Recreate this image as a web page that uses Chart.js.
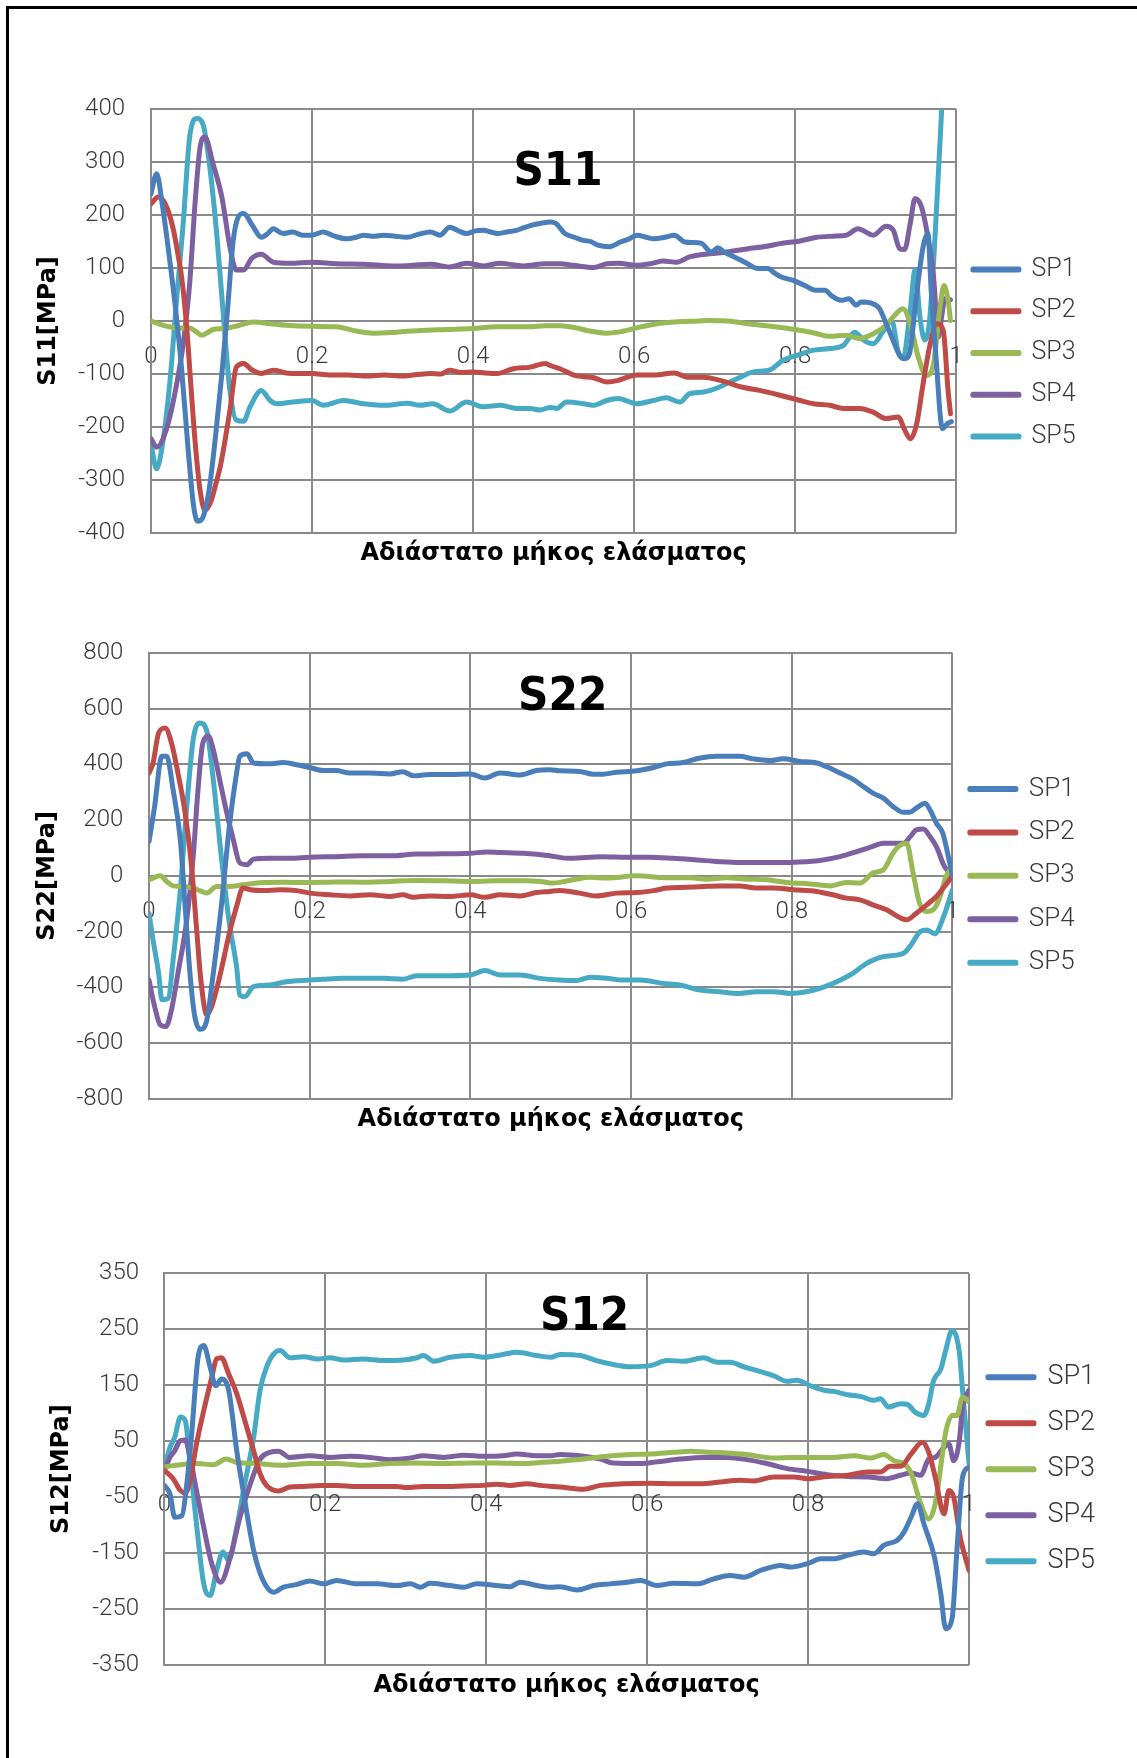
<!DOCTYPE html>
<html lang="el">
<head>
<meta charset="utf-8">
<title>S11 / S22 / S12</title>
<script src="https://cdn.jsdelivr.net/npm/chart.js@4.4.1/dist/chart.umd.min.js"></script>
<style>
  html, body { margin: 0; padding: 0; background: #fff; }
  body { width: 1137px; height: 1758px; position: relative; overflow: hidden; }
  .frame { position: absolute; left: 6px; top: 6px; width: 1300px; height: 1900px;
           border-left: 3px solid #000; border-top: 3px solid #000; }
  canvas { position: absolute; left: 0; }
</style>
</head>
<body>
<div class="frame"></div>
<canvas id="c11" width="1137" height="530" style="top:60px"></canvas>
<canvas id="c22" width="1137" height="560" style="top:600px"></canvas>
<canvas id="c12" width="1137" height="520" style="top:1210px"></canvas>
<script>
// Series names and colours shared by the three plots
const SERIES = ['SP1', 'SP2', 'SP3', 'SP4', 'SP5'];
const COLORS = ['#4A7EBB', '#BE4B48', '#98B954', '#7D60A0', '#46AAC5'];
const X_TITLE = 'Αδιάστατο μήκος ελάσματος';
const X_TICK_STEP = 0.2;

// ---- S11 [MPa] : [dimensionless length, stress] ----
const S11_SP1 = [[0,240],[0.007,278],[0.014,220],[0.022,130],[0.03,30],[0.038,-90],[0.046,-240],[0.053,-350],[0.058,-378],[0.064,-372],[0.072,-320],[0.08,-220],[0.088,-100],[0.095,20],[0.102,150],[0.108,195],[0.115,203],[0.126,180],[0.137,158],[0.145,165],[0.152,174],[0.164,165],[0.176,168],[0.188,162],[0.2,162],[0.214,168],[0.228,160],[0.243,155],[0.255,158],[0.264,162],[0.277,160],[0.289,162],[0.303,160],[0.318,158],[0.333,164],[0.347,168],[0.359,162],[0.371,177],[0.382,170],[0.392,165],[0.403,170],[0.413,171],[0.422,168],[0.43,165],[0.442,168],[0.454,171],[0.463,176],[0.471,180],[0.483,184],[0.496,187],[0.503,184],[0.514,165],[0.526,158],[0.537,152],[0.546,150],[0.555,143],[0.569,140],[0.583,149],[0.594,155],[0.604,162],[0.615,158],[0.625,155],[0.638,158],[0.65,162],[0.663,149],[0.673,148],[0.683,147],[0.696,130],[0.704,138],[0.712,130],[0.72,124],[0.731,116],[0.741,108],[0.754,99],[0.766,99],[0.775,90],[0.783,83],[0.797,77],[0.812,67],[0.825,58],[0.837,58],[0.845,48],[0.857,39],[0.867,42],[0.876,30],[0.882,36],[0.894,34],[0.905,23],[0.913,-5],[0.92,-30],[0.93,-65],[0.936,-71],[0.942,-62],[0.95,39],[0.959,140],[0.965,165],[0.969,58],[0.975,-68],[0.983,-203],[0.989,-194],[0.994,-190]];
const S11_SP2 = [[0,221],[0.009,234],[0.015,228],[0.022,205],[0.028,171],[0.033,130],[0.038,83],[0.044,-5],[0.049,-110],[0.053,-194],[0.057,-265],[0.061,-320],[0.067,-357],[0.075,-338],[0.08,-310],[0.086,-275],[0.092,-225],[0.098,-169],[0.106,-87],[0.115,-80],[0.125,-92],[0.137,-99],[0.152,-93],[0.168,-98],[0.184,-99],[0.2,-99],[0.222,-102],[0.245,-102],[0.268,-104],[0.29,-102],[0.312,-104],[0.33,-101],[0.347,-99],[0.36,-100],[0.371,-93],[0.385,-97],[0.4,-96],[0.415,-98],[0.43,-99],[0.45,-90],[0.471,-87],[0.49,-80],[0.496,-84],[0.508,-90],[0.525,-102],[0.537,-105],[0.55,-107],[0.566,-115],[0.58,-112],[0.592,-106],[0.603,-102],[0.625,-102],[0.65,-98],[0.666,-106],[0.686,-106],[0.707,-112],[0.72,-118],[0.732,-124],[0.756,-131],[0.781,-140],[0.806,-150],[0.823,-156],[0.843,-159],[0.86,-165],[0.88,-165],[0.897,-172],[0.913,-184],[0.928,-181],[0.936,-205],[0.943,-222],[0.951,-194],[0.959,-118],[0.967,-49],[0.976,-5],[0.984,-18],[0.99,-131],[0.993,-175]];
const S11_SP3 = [[0,0],[0.015,-8],[0.032,-13],[0.048,-13],[0.056,-20],[0.063,-27],[0.07,-22],[0.077,-16],[0.092,-14],[0.11,-8],[0.127,-2],[0.148,-5],[0.168,-8],[0.2,-10],[0.23,-11],[0.255,-19],[0.276,-23],[0.305,-21],[0.334,-18],[0.367,-16],[0.4,-14],[0.43,-11],[0.47,-11],[0.49,-9],[0.508,-9],[0.528,-13],[0.545,-19],[0.566,-23],[0.58,-21],[0.603,-13],[0.625,-6],[0.65,-2],[0.68,0],[0.695,1],[0.716,0],[0.741,-5],[0.77,-10],[0.8,-16],[0.825,-23],[0.843,-29],[0.863,-27],[0.88,-33],[0.897,-24],[0.913,-8],[0.922,8],[0.934,23],[0.943,-5],[0.953,-68],[0.963,-103],[0.972,-80],[0.98,26],[0.985,67],[0.99,39],[0.993,1]];
const S11_SP4 = [[0,-222],[0.007,-238],[0.02,-200],[0.032,-118],[0.04,-43],[0.048,70],[0.055,228],[0.061,328],[0.067,347],[0.077,297],[0.088,234],[0.098,140],[0.106,96],[0.115,96],[0.125,118],[0.137,126],[0.152,111],[0.173,109],[0.2,111],[0.23,108],[0.264,107],[0.285,105],[0.305,104],[0.325,105],[0.347,107],[0.371,102],[0.392,109],[0.413,104],[0.434,109],[0.45,106],[0.463,104],[0.49,108],[0.508,108],[0.525,105],[0.55,101],[0.566,108],[0.58,109],[0.603,105],[0.62,108],[0.636,113],[0.653,111],[0.669,121],[0.694,127],[0.715,130],[0.74,136],[0.765,141],[0.781,146],[0.806,151],[0.827,158],[0.847,160],[0.864,162],[0.878,174],[0.897,162],[0.913,179],[0.922,171],[0.93,136],[0.936,135],[0.943,184],[0.949,231],[0.957,215],[0.965,158],[0.972,83],[0.978,-30],[0.982,8],[0.986,42],[0.993,40]];
const S11_SP5 = [[0,-231],[0.007,-279],[0.015,-225],[0.024,-106],[0.032,45],[0.04,184],[0.048,347],[0.057,382],[0.065,369],[0.073,291],[0.082,158],[0.09,8],[0.098,-131],[0.106,-187],[0.115,-189],[0.123,-162],[0.137,-131],[0.148,-150],[0.156,-156],[0.176,-153],[0.2,-150],[0.214,-159],[0.239,-150],[0.264,-156],[0.292,-159],[0.318,-155],[0.334,-159],[0.35,-156],[0.371,-170],[0.392,-153],[0.413,-162],[0.434,-159],[0.454,-165],[0.471,-165],[0.483,-168],[0.496,-163],[0.504,-165],[0.516,-153],[0.537,-156],[0.549,-159],[0.566,-150],[0.58,-146],[0.603,-156],[0.624,-150],[0.64,-145],[0.657,-153],[0.669,-137],[0.686,-134],[0.707,-124],[0.719,-115],[0.732,-106],[0.748,-96],[0.769,-92],[0.785,-74],[0.802,-65],[0.823,-55],[0.843,-52],[0.86,-46],[0.874,-21],[0.885,-36],[0.897,-43],[0.91,-18],[0.92,1],[0.928,-58],[0.934,-71],[0.943,20],[0.949,96],[0.955,8],[0.961,-36],[0.967,1],[0.974,165],[0.979,309],[0.982,397],[0.986,520]];

// ---- S22 [MPa] ----
const S22_SP1 = [[0,123],[0.007,249],[0.016,429],[0.022,429],[0.03,309],[0.039,129],[0.045,-110],[0.051,-350],[0.057,-505],[0.064,-551],[0.072,-517],[0.08,-350],[0.09,-110],[0.1,177],[0.109,369],[0.113,429],[0.122,438],[0.13,405],[0.15,402],[0.167,407],[0.184,399],[0.2,389],[0.217,378],[0.233,378],[0.25,369],[0.275,369],[0.3,366],[0.316,374],[0.329,359],[0.349,364],[0.375,364],[0.4,366],[0.418,351],[0.437,369],[0.462,362],[0.482,378],[0.499,381],[0.511,377],[0.536,375],[0.553,365],[0.565,365],[0.582,372],[0.607,377],[0.628,389],[0.644,402],[0.665,407],[0.686,423],[0.706,429],[0.735,429],[0.752,420],[0.773,414],[0.789,420],[0.81,411],[0.831,405],[0.847,387],[0.86,369],[0.876,347],[0.889,321],[0.901,297],[0.914,279],[0.926,249],[0.939,228],[0.947,228],[0.955,243],[0.966,261],[0.972,237],[0.98,189],[0.988,153],[0.994,81],[1.0,0]];
const S22_SP2 = [[0,369],[0.005,405],[0.012,513],[0.02,531],[0.028,477],[0.036,369],[0.045,225],[0.053,34],[0.059,-182],[0.065,-386],[0.072,-499],[0.078,-469],[0.088,-362],[0.1,-206],[0.109,-110],[0.117,-44],[0.126,-50],[0.142,-53],[0.163,-50],[0.184,-53],[0.2,-62],[0.225,-68],[0.25,-72],[0.275,-68],[0.3,-74],[0.316,-68],[0.329,-77],[0.349,-72],[0.375,-74],[0.4,-68],[0.418,-77],[0.437,-68],[0.462,-72],[0.482,-60],[0.499,-56],[0.511,-53],[0.536,-62],[0.557,-72],[0.582,-62],[0.607,-60],[0.628,-53],[0.644,-44],[0.669,-41],[0.69,-38],[0.71,-36],[0.735,-36],[0.756,-44],[0.777,-44],[0.802,-50],[0.831,-56],[0.851,-68],[0.868,-80],[0.885,-86],[0.901,-104],[0.918,-122],[0.932,-146],[0.943,-158],[0.955,-134],[0.968,-104],[0.98,-74],[0.99,-38],[1.0,0]];
const S22_SP3 = [[0,-14],[0.014,0],[0.022,-20],[0.03,-36],[0.043,-38],[0.055,-44],[0.065,-55],[0.072,-62],[0.084,-38],[0.1,-38],[0.117,-32],[0.142,-24],[0.167,-23],[0.2,-24],[0.233,-22],[0.267,-23],[0.3,-20],[0.333,-17],[0.366,-18],[0.4,-20],[0.433,-18],[0.466,-18],[0.487,-20],[0.503,-26],[0.528,-14],[0.549,-5],[0.57,-8],[0.607,0],[0.644,-7],[0.673,-7],[0.694,-12],[0.719,-7],[0.744,-12],[0.769,-14],[0.794,-24],[0.823,-29],[0.848,-36],[0.868,-24],[0.885,-26],[0.901,10],[0.914,22],[0.926,81],[0.934,108],[0.943,117],[0.951,10],[0.959,-98],[0.968,-128],[0.976,-122],[0.984,-80],[0.992,-2],[1.0,34]];
const S22_SP4 = [[0,-374],[0.007,-469],[0.014,-535],[0.021,-541],[0.028,-481],[0.036,-350],[0.047,-158],[0.055,69],[0.061,309],[0.067,477],[0.074,501],[0.08,453],[0.088,345],[0.096,237],[0.105,129],[0.113,46],[0.122,40],[0.13,60],[0.15,63],[0.175,63],[0.2,67],[0.233,69],[0.267,72],[0.3,72],[0.333,78],[0.366,79],[0.4,81],[0.42,86],[0.437,84],[0.466,81],[0.499,72],[0.52,63],[0.549,67],[0.565,69],[0.594,67],[0.623,67],[0.652,63],[0.682,57],[0.71,51],[0.735,48],[0.769,48],[0.794,48],[0.818,51],[0.835,55],[0.86,69],[0.881,87],[0.898,103],[0.914,117],[0.926,117],[0.939,117],[0.947,139],[0.955,165],[0.964,168],[0.972,141],[0.98,105],[0.99,34],[1.0,0]];
const S22_SP5 = [[0,-134],[0.005,-230],[0.012,-350],[0.016,-445],[0.024,-440],[0.03,-302],[0.039,-50],[0.047,249],[0.055,489],[0.063,549],[0.072,519],[0.08,345],[0.09,69],[0.1,-170],[0.109,-326],[0.113,-428],[0.119,-434],[0.13,-398],[0.15,-392],[0.171,-380],[0.2,-374],[0.217,-371],[0.241,-368],[0.267,-368],[0.291,-368],[0.316,-371],[0.333,-359],[0.366,-359],[0.4,-356],[0.418,-340],[0.437,-356],[0.462,-356],[0.487,-368],[0.511,-374],[0.532,-376],[0.549,-364],[0.57,-368],[0.59,-374],[0.611,-374],[0.64,-386],[0.661,-392],[0.686,-410],[0.71,-416],[0.735,-422],[0.756,-416],[0.777,-416],[0.798,-422],[0.818,-416],[0.835,-404],[0.856,-380],[0.876,-350],[0.893,-314],[0.914,-290],[0.939,-278],[0.947,-254],[0.96,-200],[0.968,-194],[0.978,-208],[0.989,-146],[1.0,-50]];

// ---- S12 [MPa] ----
const S12_SP1 = [[0,-29],[0.007,-44],[0.013,-86],[0.022,-83],[0.028,-26],[0.034,63],[0.042,200],[0.049,221],[0.057,182],[0.064,149],[0.071,161],[0.08,141],[0.09,33],[0.1,-56],[0.111,-145],[0.121,-193],[0.136,-220],[0.148,-211],[0.165,-206],[0.181,-200],[0.198,-205],[0.214,-199],[0.239,-205],[0.264,-205],[0.289,-208],[0.306,-205],[0.318,-211],[0.33,-204],[0.355,-208],[0.372,-211],[0.388,-205],[0.413,-208],[0.43,-210],[0.442,-202],[0.463,-208],[0.48,-211],[0.492,-210],[0.513,-216],[0.534,-208],[0.554,-205],[0.575,-202],[0.592,-199],[0.612,-208],[0.633,-204],[0.662,-205],[0.683,-196],[0.703,-190],[0.72,-193],[0.741,-181],[0.766,-172],[0.778,-175],[0.799,-169],[0.816,-160],[0.832,-160],[0.849,-154],[0.869,-148],[0.882,-151],[0.894,-136],[0.911,-127],[0.919,-113],[0.928,-86],[0.936,-62],[0.944,-98],[0.957,-157],[0.965,-223],[0.971,-285],[0.979,-267],[0.985,-145],[0.992,-14],[1.0,4]];
const S12_SP2 = [[0,-2],[0.011,-17],[0.02,-38],[0.026,-43],[0.032,-20],[0.04,45],[0.051,117],[0.059,164],[0.065,197],[0.071,199],[0.08,170],[0.09,135],[0.1,87],[0.111,33],[0.119,-8],[0.127,-29],[0.142,-39],[0.156,-32],[0.173,-31],[0.194,-29],[0.214,-29],[0.239,-31],[0.264,-31],[0.289,-31],[0.301,-33],[0.322,-31],[0.347,-31],[0.372,-30],[0.397,-29],[0.413,-27],[0.43,-29],[0.451,-26],[0.467,-29],[0.492,-32],[0.521,-36],[0.542,-29],[0.571,-26],[0.604,-25],[0.633,-26],[0.666,-26],[0.691,-23],[0.716,-20],[0.733,-21],[0.757,-14],[0.782,-14],[0.799,-17],[0.824,-13],[0.849,-11],[0.874,-5],[0.89,-5],[0.902,5],[0.915,5],[0.928,27],[0.942,48],[0.95,30],[0.958,-14],[0.969,-80],[0.975,-38],[0.981,-50],[0.989,-121],[1.0,-181]];
const S12_SP3 = [[0,4],[0.02,8],[0.04,10],[0.061,8],[0.077,18],[0.09,12],[0.115,10],[0.144,7],[0.181,10],[0.214,10],[0.247,7],[0.281,10],[0.314,11],[0.347,10],[0.38,11],[0.413,11],[0.446,10],[0.467,12],[0.492,14],[0.521,18],[0.55,23],[0.579,26],[0.604,27],[0.633,30],[0.654,32],[0.675,30],[0.7,29],[0.724,26],[0.757,20],[0.782,21],[0.807,21],[0.832,21],[0.857,24],[0.878,20],[0.894,26],[0.907,15],[0.919,10],[0.928,-7],[0.94,-62],[0.95,-89],[0.958,-62],[0.967,27],[0.971,66],[0.979,96],[0.985,96],[0.992,129],[1.0,120]];
const S12_SP4 = [[0,-2],[0.007,21],[0.013,33],[0.02,51],[0.026,52],[0.032,21],[0.04,-38],[0.049,-104],[0.059,-169],[0.07,-202],[0.082,-157],[0.094,-86],[0.107,-26],[0.119,18],[0.131,30],[0.142,32],[0.156,21],[0.181,24],[0.206,21],[0.231,23],[0.256,21],[0.281,17],[0.306,20],[0.322,24],[0.347,21],[0.372,25],[0.397,23],[0.421,24],[0.438,27],[0.463,24],[0.48,24],[0.492,26],[0.521,23],[0.542,18],[0.558,11],[0.592,10],[0.612,13],[0.641,18],[0.67,21],[0.7,21],[0.724,17],[0.749,10],[0.774,1],[0.799,-4],[0.824,-10],[0.849,-13],[0.874,-14],[0.898,-17],[0.915,-11],[0.928,-7],[0.94,-11],[0.95,18],[0.958,21],[0.969,39],[0.975,45],[0.981,15],[0.988,51],[0.992,111],[1.0,141]];
const S12_SP5 = [[0,1],[0.007,39],[0.013,57],[0.02,93],[0.026,87],[0.032,10],[0.04,-98],[0.049,-205],[0.057,-226],[0.065,-181],[0.073,-148],[0.08,-163],[0.09,-104],[0.1,-26],[0.111,57],[0.119,141],[0.127,182],[0.136,206],[0.144,212],[0.156,199],[0.173,201],[0.19,197],[0.206,199],[0.223,195],[0.247,197],[0.272,194],[0.297,195],[0.314,199],[0.322,203],[0.335,193],[0.355,200],[0.38,203],[0.397,200],[0.421,205],[0.438,209],[0.463,203],[0.48,200],[0.492,205],[0.517,203],[0.537,194],[0.558,187],[0.579,183],[0.604,185],[0.625,194],[0.646,193],[0.67,199],[0.687,191],[0.703,191],[0.72,183],[0.737,176],[0.757,167],[0.774,157],[0.786,159],[0.803,149],[0.82,141],[0.832,139],[0.849,133],[0.865,130],[0.882,123],[0.89,126],[0.9,111],[0.915,117],[0.923,116],[0.933,102],[0.944,96],[0.95,117],[0.956,158],[0.965,179],[0.971,212],[0.979,248],[0.988,209],[0.992,141],[1.0,10]];

// Y-axis ranges and steps of the three plots
const S11_Y = { min: -400, max: 400, step: 100 };
const S22_Y = { min: -800, max: 800, step: 200 };
const S12_Y = { min: -350, max: 350, step: 100 };

// Bold plot name drawn inside the plot area
const plotTitle = {
  id: 'plotTitle',
  afterDatasetsDraw(chart, args, opts) {
    const { ctx, chartArea } = chart;
    ctx.save();
    ctx.font = 'bold ' + opts.size + 'px "DejaVu Sans Condensed", "DejaVu Sans", sans-serif';
    ctx.fillStyle = '#000';
    ctx.textAlign = 'center';
    ctx.textBaseline = 'alphabetic';
    ctx.fillText(opts.text, (chartArea.left + chartArea.right) / 2 + opts.dx, chartArea.top + opts.dy);
    ctx.restore();
  }
};

const GRID = '#8a8a8a';
const LIGHT_FAMILY = 'Roboto, "Open Sans", "DejaVu Sans", sans-serif';
const TICK_FONT = { family: LIGHT_FAMILY, size: 24, weight: 300 };
const TEXT_COLOR = '#3a3a3a';

// 0, 0.2, ... 1 without trailing zeros
const fmtX = (v) => String(Math.round(v * 10) / 10);

function makeChart(id, name, series, yr, L) {
  const datasets = series.map((pts, i) => ({
    label: SERIES[i],
    data: pts.map(([x, y]) => ({ x, y })),
    borderColor: COLORS[i],
    backgroundColor: COLORS[i],
    borderWidth: 5,
    pointRadius: 0,
    cubicInterpolationMode: 'monotone',
    borderJoinStyle: 'round',
    borderCapStyle: 'round'
  }));

  const legend = {
    position: 'right',
    align: 'center',
    fullSize: false,
    labels: {
      boxWidth: 46,
      boxHeight: 1,
      padding: L.legendGap,
      color: TEXT_COLOR,
      font: { family: LIGHT_FAMILY, size: L.legendSize, weight: 300 }
    }
  };
  if (L.legendShift) {
    legend.title = { display: true, text: '', padding: { top: 0, bottom: L.legendShift } };
  }

  return new Chart(document.getElementById(id), {
    type: 'line',
    data: { datasets },
    options: {
      responsive: false,
      animation: false,
      events: [],
      layout: { padding: L.pad },
      scales: {
        x: {
          type: 'linear',
          min: 0, max: 1,
          position: { y: 0 },
          ticks: { stepSize: X_TICK_STEP, font: TICK_FONT, color: TEXT_COLOR, padding: 21.5, maxRotation: 0, autoSkip: false, callback: fmtX },
          grid: { color: GRID, lineWidth: 2, drawTicks: false },
          border: { display: false }
        },
        xTitle: {
          type: 'linear',
          axis: 'x',
          min: 0, max: 1,
          position: 'bottom',
          ticks: { display: false },
          grid: { display: false, drawTicks: false },
          border: { display: false },
          title: {
            display: true,
            text: X_TITLE,
            color: '#000',
            font: { family: '"DejaVu Sans", sans-serif', size: 24, weight: 'bold' },
            padding: { top: L.xTitleTop, bottom: 4 }
          }
        },
        y: {
          type: 'linear',
          min: yr.min, max: yr.max,
          ticks: { stepSize: yr.step, font: TICK_FONT, color: TEXT_COLOR, padding: L.yTickPad },
          grid: { color: GRID, lineWidth: 2, drawTicks: false },
          border: { display: true, color: GRID, width: 2 },
          title: {
            display: true,
            text: name + '[MPa]',
            color: '#000',
            font: { family: '"DejaVu Sans", sans-serif', size: 24, weight: 'bold' },
            padding: { top: L.yTitleTop, bottom: 0 }
          },
          afterFit(scale) { scale.width = L.yWidth; }
        }
      },
      plugins: {
        legend,
        tooltip: { enabled: false },
        plotTitle: { text: name, size: 47, dx: L.titleDx, dy: L.titleDy }
      }
    },
    plugins: [plotTitle]
  });
}

makeChart('c11', 'S11', [S11_SP1, S11_SP2, S11_SP3, S11_SP4, S11_SP5], S11_Y, {
  pad: { top: 49, left: 10, right: 51.5, bottom: 17.6 },
  yWidth: 141, yTickPad: 26, yTitleTop: 24.6, xTitleTop: 6.6,
  legendSize: 25, legendGap: 16.8, legendShift: 49.6,
  titleDx: 4.5, titleDy: 76
});

makeChart('c22', 'S22', [S22_SP1, S22_SP2, S22_SP3, S22_SP4, S22_SP5], S22_Y, {
  pad: { top: 53, left: 10, right: 52.3, bottom: 21.6 },
  yWidth: 139, yTickPad: 25.7, yTitleTop: 23.6, xTitleTop: 6.9,
  legendSize: 26, legendGap: 17.4, legendShift: 0,
  titleDx: 12, titleDy: 57
});

makeChart('c12', 'S12', [S12_SP1, S12_SP2, S12_SP3, S12_SP4, S12_SP5], S12_Y, {
  pad: { top: 63.3, left: 10, right: 31.9, bottom: 25.6 },
  yWidth: 154.3, yTickPad: 25.3, yTitleTop: 37.6, xTitleTop: 6.6,
  legendSize: 27, legendGap: 19, legendShift: 0,
  titleDx: 18, titleDy: 57
});
</script>
</body>
</html>
